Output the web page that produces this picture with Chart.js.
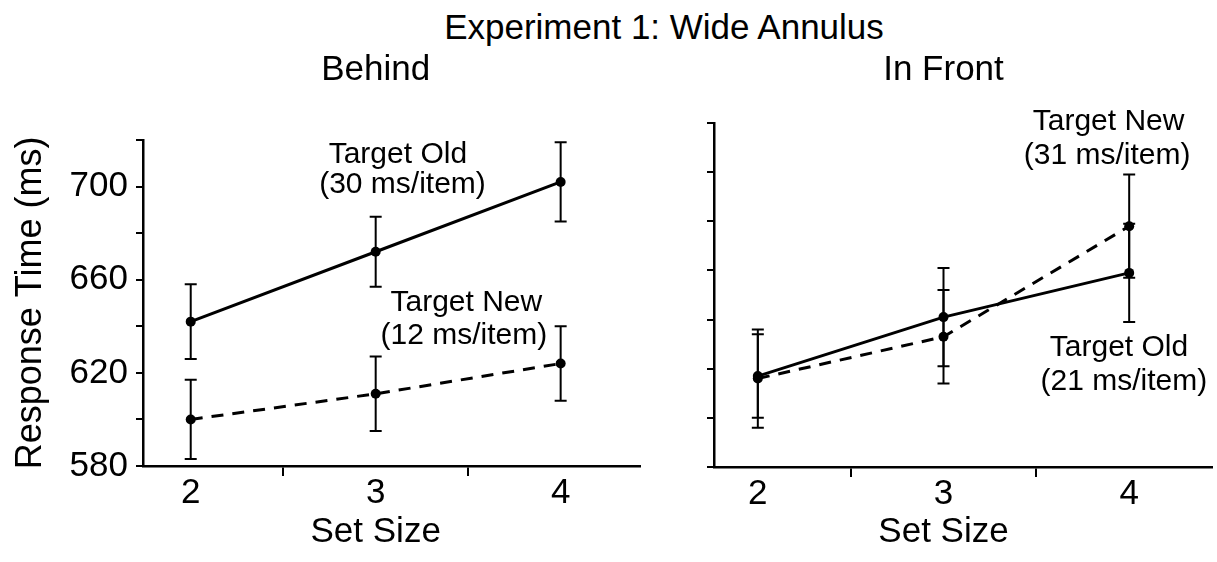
<!DOCTYPE html>
<html>
<head>
<meta charset="utf-8">
<script src="https://cdn.jsdelivr.net/npm/chart.js@4.4.1/dist/chart.umd.min.js"></script>
<style>
  body { margin: 0; background: #fff; width: 1217px; height: 562px; overflow: hidden; position: relative; font-family: "Liberation Sans", Arial, sans-serif; }
  #title { position: absolute; left: 264px; top: 9px; width: 800px; text-align: center; font-size: 35px; line-height: 35px; color: #000; }
  canvas { position: absolute; top: 0; }
  #behind { left: 0; }
  #front { left: 650px; }
</style>
</head>
<body>
<div id="title">Experiment 1: Wide Annulus</div>
<canvas id="behind" width="650" height="562"></canvas>
<canvas id="front" width="567" height="562"></canvas>
<script>
// data (ms)
const setSizes = [2, 3, 4];
const behindOld = [642, 672, 702];
const behindOldErr = [16, 15, 17];
const behindNew = [600, 611, 624];
const behindNewErr = [17, 16, 16];
const frontOld = [617, 641, 659];
const frontOldErr = [17, 20, 20];
const frontNew = [616, 633, 678];
const frontNewErr = [20, 19, 21];

const yTicks = [580, 600, 620, 640, 660, 680, 700, 720];
const yLabels = [580, 620, 660, 700];
const xTicks = [2, 2.5, 3, 3.5, 4];

// slope labels, placed in data units
const behindNotes = [
  { text: 'Target Old', x: 3.12, y: 713.6 },
  { text: '(30 ms/item)', x: 3.145, y: 700.6 },
  { text: 'Target New', x: 3.49, y: 650.3 },
  { text: '(12 ms/item)', x: 3.477, y: 636 }
];
const frontNotes = [
  { text: 'Target New', x: 3.889, y: 720.5 },
  { text: '(31 ms/item)', x: 3.881, y: 706.7 },
  { text: 'Target Old', x: 3.945, y: 628.7 },
  { text: '(21 ms/item)', x: 3.971, y: 614.8 }
];

const FONT = '"Liberation Sans", Arial, sans-serif';
Chart.defaults.font.family = FONT;
Chart.defaults.color = '#000';

const extras = {
  id: 'extras',
  afterDatasetsDraw(chart, args, opts) {
    const ctx = chart.ctx;
    const xs = chart.scales.x, ys = chart.scales.y;
    ctx.save();
    // error bars
    ctx.strokeStyle = '#000';
    ctx.lineWidth = 2;
    chart.data.datasets.forEach(ds => {
      ds.data.forEach((p, i) => {
        const x = xs.getPixelForValue(p.x);
        const top = ys.getPixelForValue(p.y + ds.errors[i]);
        const bot = ys.getPixelForValue(p.y - ds.errors[i]);
        ctx.beginPath();
        ctx.moveTo(x, top); ctx.lineTo(x, bot);
        ctx.moveTo(x - 6, top); ctx.lineTo(x + 6, top);
        ctx.moveTo(x - 6, bot); ctx.lineTo(x + 6, bot);
        ctx.stroke();
      });
    });
    ctx.fillStyle = '#000';
    ctx.textAlign = 'center';
    ctx.textBaseline = 'middle';
    ctx.font = '30px ' + FONT;
    opts.notes.forEach(n => {
      ctx.fillText(n.text, xs.getPixelForValue(n.x), ys.getPixelForValue(n.y));
    });
    ctx.font = '35px ' + FONT;
    const mid = xs.getPixelForValue(3);
    ctx.fillText(opts.panel, mid, 70);
    ctx.fillText('Set Size', mid, 532);
    ctx.restore();
  }
};

function pts(vals) {
  return setSizes.map((s, i) => ({ x: s, y: vals[i] }));
}

function makeChart(id, panel, oldVals, oldErr, newVals, newErr, notes, xMin, xMax, yWidth, xHeight, padTop, padRight, showY) {
  return new Chart(document.getElementById(id), {
    type: 'line',
    data: {
      datasets: [{
        label: 'Target Old',
        data: pts(oldVals),
        errors: oldErr,
        borderColor: '#000',
        borderWidth: 3,
        pointRadius: 5,
        pointBackgroundColor: '#000',
        pointBorderWidth: 0,
        clip: false
      }, {
        label: 'Target New',
        data: pts(newVals),
        errors: newErr,
        borderColor: '#000',
        borderWidth: 3,
        borderDash: [12, 9],
        pointRadius: 5,
        pointBackgroundColor: '#000',
        pointBorderWidth: 0,
        clip: false
      }]
    },
    options: {
      responsive: false,
      animation: false,
      layout: { padding: { top: padTop, right: padRight, left: 0, bottom: 0 } },
      plugins: {
        legend: { display: false },
        tooltip: { enabled: false },
        extras: { notes: notes, panel: panel }
      },
      scales: {
        x: {
          type: 'linear',
          min: xMin,
          max: xMax,
          afterBuildTicks: s => { s.ticks = xTicks.map(v => ({ value: v })); },
          afterFit: s => { s.height = xHeight; },
          ticks: {
            autoSkip: false,
            maxRotation: 0,
            padding: 0,
            color: '#000',
            font: { size: 35, lineHeight: 1 },
            callback: v => Number.isInteger(v) ? String(v) : ''
          },
          grid: {
            drawOnChartArea: false,
            tickLength: 10,
            lineWidth: 2,
            tickColor: c => (c.tick && !Number.isInteger(c.tick.value)) ? '#000' : 'rgba(0,0,0,0)'
          },
          border: { color: '#000', width: 2.5 }
        },
        y: {
          type: 'linear',
          min: 580,
          max: 720,
          afterBuildTicks: s => { s.ticks = yTicks.map(v => ({ value: v })); },
          afterFit: s => { s.width = yWidth; },
          ticks: {
            padding: 8,
            color: '#000',
            font: { size: 35 },
            callback: v => (showY && yLabels.includes(v)) ? String(v) : ''
          },
          grid: {
            drawOnChartArea: false,
            tickLength: 7,
            lineWidth: 2,
            color: '#000'
          },
          border: { color: '#000', width: 2.5 },
          title: {
            display: showY,
            text: 'Response Time (ms)',
            color: '#000',
            font: { size: 36 },
            padding: { top: 9, bottom: 0 }
          }
        }
      }
    },
    plugins: [extras]
  });
}

makeChart('behind', 'Behind', behindOld, behindOldErr, behindNew, behindNewErr, behindNotes,
  1.742, 4.429, 143, 96, 140, 10, true);
makeChart('front', 'In Front', frontOld, frontOldErr, frontNew, frontNewErr, frontNotes,
  1.764, 4.446, 64, 95, 123, 0, false);
</script>
</body>
</html>
